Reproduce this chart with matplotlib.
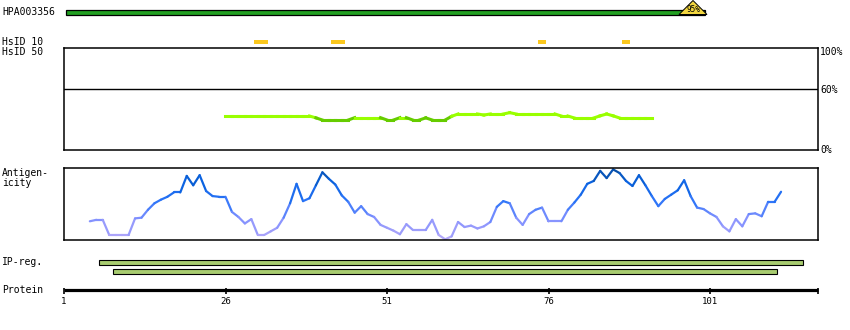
import matplotlib
matplotlib.use("Agg")
import matplotlib.pyplot as plt
import numpy as np
from matplotlib.collections import LineCollection
from matplotlib.colors import LinearSegmentedColormap
from matplotlib.patches import Rectangle, Polygon

plt.rcParams['font.family'] = ['DejaVu Sans Mono', 'DejaVu Sans']
plt.rcParams['font.size'] = 7

# --- data (residue positions / values) ---
antigen_name = "HPA003356"
antigen_start, antigen_end = 1.3, 100.2
identity_label = "95%"
hsid10_regions = [(30.4, 32.6), (42.3, 44.5), (74.4, 75.6), (87.4, 88.6)]

hsid50_start = 26
hsid50_values = [33.3] * 14 + [31.5] + [29.4] * 5 + [31.7] * 5 + [29.4] * 2 + \
    [31.7] * 2 + [29.4] * 2 + [31.5] + [29.4] * 3 + [33.0] + [35.3] * 4 + \
    [34.3] + [35.3] * 3 + [36.6] + [35.3] * 7 + [33.3] * 2 + [31.4] * 4 + \
    [33.5, 35.3, 33.5] + [31.4] * 6

antigenicity_start = 5
antigenicity_values = [
    0.26, 0.28, 0.28, 0.07, 0.07, 0.07, 0.07, 0.30, 0.31, 0.42,
    0.51, 0.56, 0.60, 0.66, 0.66, 0.89, 0.76, 0.90, 0.68, 0.61,
    0.60, 0.60, 0.39, 0.32, 0.23, 0.29, 0.07, 0.07, 0.12, 0.17,
    0.31, 0.51, 0.78, 0.54, 0.58, 0.76, 0.94, 0.85, 0.77, 0.62,
    0.53, 0.38, 0.47, 0.36, 0.32, 0.21, 0.17, 0.13, 0.08, 0.22,
    0.14, 0.14, 0.14, 0.28, 0.07, 0.01, 0.05, 0.25, 0.18, 0.20,
    0.16, 0.19, 0.25, 0.46, 0.54, 0.51, 0.31, 0.21, 0.36, 0.42,
    0.45, 0.26, 0.26, 0.26, 0.42, 0.52, 0.63, 0.78, 0.82, 0.96,
    0.86, 0.98, 0.93, 0.82, 0.75, 0.90, 0.76, 0.61, 0.47, 0.57,
    0.63, 0.69, 0.83, 0.61, 0.45, 0.43, 0.37, 0.32, 0.19, 0.12,
    0.29, 0.19, 0.36, 0.37, 0.33, 0.53, 0.53, 0.67,
]

ip_regions = [(6.4, 115.4), (8.6, 111.4)]
tick_residues = [1, 26, 51, 76, 101]
pct_labels = ["100%", "60%", "0%"]

# --- layout in pixels ---
W, H = 850, 330
PX0, PX_PER_RES, PX_END = 64, 6.46, 818


def res_at(px):
    return 1 + (px - PX0) / PX_PER_RES


def add_axes(fig, x0, x1, y0, y1):
    return fig.add_axes([x0 / W, 1 - y1 / H, (x1 - x0) / W, (y1 - y0) / H])


def txt(fig, x, y, s, **kw):
    kw.setdefault('va', 'center')
    fig.text(x / W, 1 - y / H, s, **kw)


fig = plt.figure(figsize=(W / 100, H / 100), dpi=100)

ax = add_axes(fig, 0, W, 0, H)
ax.set_xlim(res_at(0), res_at(W))
ax.set_ylim(H, 0)
ax.axis('off')

# antigen bar + identity triangle
ax.add_patch(Rectangle((antigen_start, 10), antigen_end - antigen_start, 4.5,
                       facecolor='#22a022', edgecolor='black', lw=0.9))
tri_l, tri_r = res_at(679), res_at(707)
ax.add_patch(Polygon([(tri_l, 14.5), (tri_r, 14.5), ((tri_l + tri_r) / 2, 0.5)],
                     facecolor='#f2d640', edgecolor='black', lw=0.7))
ax.text((tri_l + tri_r) / 2, 10, identity_label, fontsize=5.5, ha='center', va='center')
txt(fig, 2, 12, antigen_name)

# HsID 10 regions
for s, e in hsid10_regions:
    ax.add_patch(Rectangle((s, 40), e - s, 4, facecolor='#fbc81e', edgecolor='none'))
txt(fig, 2, 42, "HsID 10")
txt(fig, 2, 52, "HsID 50")

# HsID 50 panel
ax_id = add_axes(fig, PX0, PX_END, 48, 150)
ax_id.set_xlim(1, res_at(PX_END))
ax_id.set_ylim(0, 100)
ax_id.set_xticks([])
ax_id.set_yticks([])
for sp in ax_id.spines.values():
    sp.set_linewidth(1.1)
ax_id.axhline(60, color='black', lw=1.0)
xs = np.arange(hsid50_start, hsid50_start + len(hsid50_values))
pts = np.column_stack([xs, hsid50_values])
segs = np.stack([pts[:-1], pts[1:]], axis=1)
cols = ['#66cc00' if min(a, b) < 30 else '#99ff00'
        for a, b in zip(hsid50_values[:-1], hsid50_values[1:])]
ax_id.add_collection(LineCollection(segs, colors=cols, linewidths=2.2,
                                    capstyle='projecting', joinstyle='miter'))
txt(fig, 820, 52, pct_labels[0], ha='left')
txt(fig, 820, 90, pct_labels[1], ha='left')
txt(fig, 820, 150, pct_labels[2], ha='left')

# antigenicity panel
ax_ag = add_axes(fig, PX0, PX_END, 168, 240)
ax_ag.set_xlim(1, res_at(PX_END))
ax_ag.set_ylim(0, 1)
ax_ag.set_xticks([])
ax_ag.set_yticks([])
for sp in ax_ag.spines.values():
    sp.set_linewidth(1.1)
cmap = LinearSegmentedColormap.from_list(
    'ag', [(0, '#b8aaf8'), (0.3, '#8090ff'), (0.55, '#2a74f8'),
           (0.8, '#0a62e0'), (1.0, '#064a9a')])
xs = np.arange(antigenicity_start, antigenicity_start + len(antigenicity_values))
vals = np.array(antigenicity_values)
pts = np.column_stack([xs, vals])
segs = np.stack([pts[:-1], pts[1:]], axis=1)
mids = (vals[:-1] + vals[1:]) / 2
ax_ag.add_collection(LineCollection(segs, colors=cmap(mids), linewidths=1.6,
                                    capstyle='round'))
txt(fig, 2, 173, "Antigen-")
txt(fig, 2, 183, "icity")

# IP regions
for (s, e), y in zip(ip_regions, [259.5, 269]):
    ax.add_patch(Rectangle((s, y), e - s, 5, facecolor='#a8cc70',
                           edgecolor='black', lw=0.8))
txt(fig, 2, 262, "IP-reg.")

# protein axis
x_end = res_at(PX_END)
ax.plot([1, x_end], [290, 290], color='black', lw=2.3, solid_capstyle='butt')
ax.vlines(tick_residues + [x_end], 288, 294, color='black', lw=1.2)
for t in tick_residues:
    ax.text(t, 302, str(t), ha='center', va='center', fontsize=6.5)
txt(fig, 2, 290, "Protein")

fig.savefig("out.png", dpi=100)
